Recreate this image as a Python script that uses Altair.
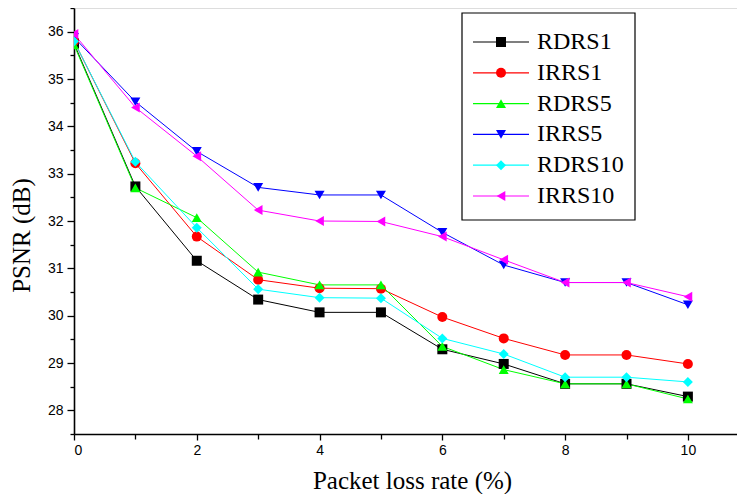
import altair as alt
import pandas as pd

# ---- data ----
loss_rate = [0, 1, 2, 3, 4, 5, 6, 7, 8, 9, 10]
series_names = ["RDRS1", "IRRS1", "RDRS5", "IRRS5", "RDRS10", "IRRS10"]
RDRS1 = [35.75, 32.73, 31.16, 30.34, 30.07, 30.07, 29.29, 28.98, 28.56, 28.56, 28.29]
IRRS1 = [35.80, 33.22, 31.67, 30.76, 30.58, 30.57, 29.97, 29.52, 29.17, 29.17, 28.98]
RDRS5 = [35.72, 32.70, 32.07, 30.92, 30.65, 30.65, 29.35, 28.86, 28.56, 28.56, 28.24]
IRRS5 = [35.88, 34.52, 33.47, 32.71, 32.55, 32.55, 31.76, 31.07, 30.70, 30.70, 30.23]
RDRS10 = [35.80, 33.25, 31.86, 30.56, 30.38, 30.37, 29.52, 29.19, 28.70, 28.70, 28.60]
IRRS10 = [35.95, 34.40, 33.37, 32.23, 32.00, 31.99, 31.67, 31.18, 30.70, 30.70, 30.40]
series_values = [RDRS1, IRRS1, RDRS5, IRRS5, RDRS10, IRRS10]

x_ticks = [0, 1, 2, 3, 4, 5, 6, 7, 8, 9, 10]
y_ticks = [27.5, 28, 28.5, 29, 29.5, 30, 30.5, 31, 31.5, 32, 32.5, 33, 33.5, 34, 34.5, 35, 35.5, 36, 36.5]

# ---- styles ----
series_colors = ["#000000", "#ff0000", "#00ff00", "#0000ff", "#00ffff", "#ff00ff"]
marker_shapes = ["square", "circle", "triangle-up", "triangle-down", "diamond", "triangle-left"]

rows = []
for name, vals in zip(series_names, series_values):
    for xv, yv in zip(loss_rate, vals):
        rows.append({"series": name, "rate": xv, "psnr": yv})
df = pd.DataFrame(rows)
leg_df = pd.DataFrame({"series": series_names})
box_df = pd.DataFrame({"k": [0]})

tick_font = "Liberation Sans"
title_font = "Liberation Serif"

x_axis = alt.Axis(
    values=x_ticks,
    labelExpr="datum.value % 2 === 0 ? format(datum.value, 'd') : ''",
    grid=False,
    domainColor="black",
    domainWidth=1.6,
    tickColor="black",
    tickWidth=1.3,
    tickSize={"condition": {"test": "datum.value % 2 !== 0", "value": 5}, "value": 6},
    labelFont=tick_font,
    labelFontSize=14,
    labelColor="black",
    labelPadding=3,
    title="Packet loss rate (%)",
    titleFont=title_font,
    titleFontSize=25,
    titleFontWeight="normal",
    titleColor="black",
    titleX=338,
    titleY=54,
    titleBaseline="alphabetic",
)
y_axis = alt.Axis(
    values=y_ticks,
    labelExpr="datum.value % 1 === 0 ? format(datum.value, 'd') : ''",
    grid=False,
    domainColor="black",
    domainWidth=1.6,
    tickColor="black",
    tickWidth=1.3,
    tickSize={"condition": {"test": "datum.value % 1 !== 0", "value": 4}, "value": 7},
    labelFont=tick_font,
    labelFontSize=14,
    labelColor="black",
    labelPadding=4,
    title="PSNR (dB)",
    titleFont=title_font,
    titleFontSize=25,
    titleFontWeight="normal",
    titleColor="black",
    titleX=-40,
    titleY=227,
    titleBaseline="bottom",
)

x_enc = alt.X("rate:Q", scale=alt.Scale(domain=[0, 10.8], nice=False, zero=False), axis=x_axis)
y_enc = alt.Y("psnr:Q", scale=alt.Scale(domain=[27.5, 36.5], nice=False, zero=False), axis=y_axis)
color_scale = alt.Scale(domain=series_names, range=series_colors)
shape_scale = alt.Scale(domain=series_names, range=marker_shapes)

lines = alt.Chart(df).mark_line(strokeWidth=1, clip=True).encode(
    x=x_enc,
    y=y_enc,
    color=alt.Color("series:N", scale=color_scale, legend=None),
)

points = alt.Chart(df).mark_point(filled=True, size=100, opacity=1, clip=True).encode(
    x=x_enc,
    y=y_enc,
    color=alt.Color("series:N", scale=color_scale, legend=None),
    shape=alt.Shape("series:N", scale=shape_scale, legend=None),
)

data_layer = alt.layer(lines, points)

# ---- legend drawn as layered marks ----
leg_y = alt.Y(
    "series:N",
    scale=alt.Scale(type="point", domain=series_names, range=[34, 188], padding=0),
    axis=None,
)

legend_box = alt.Chart(box_df).mark_rect(fill="white", stroke="black", strokeWidth=1.2).encode(
    x=alt.value(388), x2=alt.value(561), y=alt.value(5), y2=alt.value(212)
)
legend_lines = alt.Chart(leg_df).mark_rule(strokeWidth=1.2).encode(
    x=alt.value(399),
    x2=alt.value(455),
    y=leg_y,
    color=alt.Color("series:N", scale=color_scale, legend=None),
)
legend_marks = alt.Chart(leg_df).mark_point(filled=True, size=100, opacity=1).encode(
    x=alt.value(427),
    y=leg_y,
    color=alt.Color("series:N", scale=color_scale, legend=None),
    shape=alt.Shape("series:N", scale=shape_scale, legend=None),
)
legend_text = alt.Chart(leg_df).mark_text(
    align="left", baseline="middle", font=title_font, fontSize=24, color="black"
).encode(
    x=alt.value(463),
    y=leg_y,
    text="series:N",
)

legend_layer = alt.layer(legend_lines, legend_marks, legend_text)

chart = (
    alt.layer(data_layer, legend_box, legend_layer)
    .resolve_scale(y="independent")
    .properties(
        width=663,
        height=426,
        autosize=alt.AutoSizeParams(type="none"),
        padding={"left": 66, "top": 0, "right": 0, "bottom": 60},
    )
    .configure_view(stroke=None)
    .configure(background="white")
)

chart.save("out.html", embed_options={"renderer": "svg", "actions": False})
